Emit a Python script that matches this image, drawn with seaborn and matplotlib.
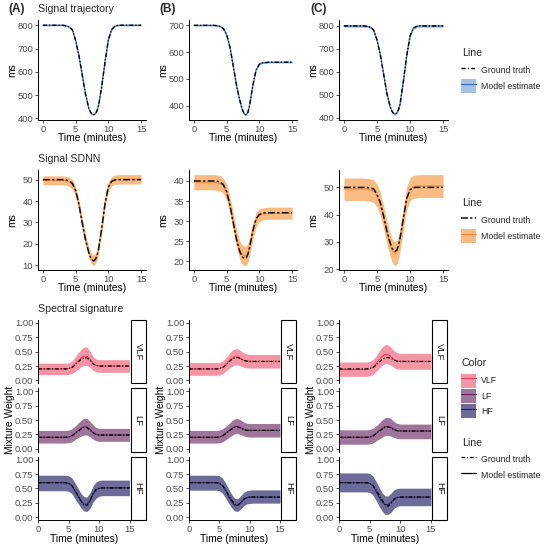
#Import Libraries
import matplotlib
matplotlib.use("Agg")
import matplotlib.pyplot as plt
from matplotlib.lines import Line2D
from matplotlib.patches import Patch, Rectangle
from matplotlib.ticker import MultipleLocator
import seaborn as sns

sns.set_style("ticks")
plt.rcParams["font.family"] = ["Liberation Sans", "DejaVu Sans"]

#Time grids (minutes)
t_sig = [0, 3, 3.5, 4, 4.5, 5, 5.5, 6, 6.5, 7, 7.25, 7.5, 7.75, 8, 8.25, 8.5,
         9, 9.5, 10, 10.5, 11, 11.5, 15]
t_mix = [0, 4.5, 5, 5.5, 6, 6.5, 7, 7.5, 8, 8.5, 9, 9.5, 10, 10.5, 15]

#Signal trajectory (ms) - estimate sits on top of the truth
traj_a = [800, 800, 798, 793, 780, 735, 670, 588, 505, 445, 428, 419, 416, 420,
          432, 455, 540, 645, 738, 782, 796, 800, 800]
traj_b = [700, 700, 699, 696, 688, 665, 619, 550, 477, 420, 397, 378, 367, 366,
          375, 400, 475, 533, 555, 560, 561, 562, 562]
traj_c = [800, 800, 798, 794, 782, 738, 675, 590, 505, 446, 428, 418, 415, 420,
          434, 460, 560, 670, 755, 790, 798, 800, 800]
traj_halfwidth = [3, 3, 6]

#Signal SDNN (ms)
sdnn_truth_a = [50, 50, 49.9, 49.5, 48.3, 45, 38.5, 30, 22, 16, 13.8, 12.5, 12,
                12.6, 14.2, 17.5, 27.5, 39, 46.5, 49.2, 49.9, 50, 50]
sdnn_est_a = [49.7, 49.7, 49.5, 49, 47.8, 44.5, 38.2, 29.8, 22, 16.2, 14, 12.8,
              12.4, 13, 14.6, 18, 28, 39.5, 46.8, 49.3, 50, 50.2, 50.2]
sdnn_lo_a = [47.6, 47.6, 47.4, 46.9, 45.6, 42.2, 35.8, 27.3, 19.5, 13.7, 11.5,
             10.3, 9.9, 10.5, 12.1, 15.5, 25.6, 37.2, 44.6, 47.1, 47.8, 48, 48]
sdnn_hi_a = [51.8, 51.8, 51.6, 51.1, 50, 46.8, 40.6, 32.3, 24.5, 18.7, 16.5,
             15.3, 14.9, 15.5, 17.1, 20.5, 30.4, 41.8, 49, 51.5, 52.2, 52.4, 52.4]

sdnn_truth_b = [40, 40, 39.95, 39.8, 39.1, 37.4, 34, 29.7, 25.5, 22.5, 21.6, 21,
                20.7, 20.9, 21.8, 23.4, 27.6, 30.6, 31.7, 32, 32.1, 32.1, 32.1]
sdnn_est_b = [39.7, 39.7, 39.6, 39.4, 38.8, 37.2, 34, 29.9, 25.8, 22.8, 22, 21.6,
              21.4, 21.5, 22.2, 23.6, 27.5, 30.4, 31.5, 31.8, 31.9, 32, 32]
sdnn_lo_b = [37.8, 37.8, 37.7, 37.5, 36.9, 35.2, 31.9, 27.7, 23.5, 20.5, 19.6,
             19.2, 19, 19.1, 19.8, 21.3, 25.4, 28.6, 29.9, 30.3, 30.4, 30.5, 30.5]
sdnn_hi_b = [41.6, 41.6, 41.5, 41.3, 40.7, 39.2, 36.1, 32.1, 28.1, 25.1, 24.4,
             24, 23.8, 23.9, 24.6, 25.9, 29.6, 32.2, 33.1, 33.3, 33.4, 33.5, 33.5]

sdnn_truth_c = [50, 50, 49.95, 49.8, 49.4, 47.5, 44.5, 39.5, 34, 29.6, 27.9,
                26.9, 26.6, 27, 28.6, 31.5, 38.8, 46, 49.1, 49.9, 50, 50, 50]
sdnn_est_c = [49.4, 49.4, 49.3, 49.1, 48.6, 47, 44, 39, 33.5, 29, 27.2, 26.2,
              25.9, 26.4, 28, 31, 38.6, 46, 49.3, 50.2, 50.4, 50.5, 50.5]
sdnn_lo_c = [45.2, 45.2, 45.1, 44.9, 44.4, 42.8, 39.8, 34.8, 29.3, 24.8, 22.9,
             21.8, 21.4, 22, 23.8, 26.8, 34.4, 41.8, 45.1, 46, 46.2, 46.3, 46.3]
sdnn_hi_c = [53.4, 53.4, 53.3, 53.1, 52.7, 51.2, 48.2, 43.2, 37.7, 33.2, 31.4,
             30.4, 30.1, 30.6, 32.2, 35.2, 42.8, 50.2, 53.5, 54.4, 54.6, 54.7, 54.7]

#Spectral signature (mixture weights)
vlf_truth_a = [0.20, 0.20, 0.205, 0.22, 0.26, 0.31, 0.36, 0.39, 0.39, 0.35, 0.29, 0.26, 0.25, 0.25, 0.25]
vlf_est_a = [0.20, 0.20, 0.205, 0.225, 0.27, 0.33, 0.38, 0.42, 0.42, 0.37, 0.30, 0.26, 0.25, 0.25, 0.25]
vlf_lo_a = [0.10, 0.10, 0.105, 0.12, 0.15, 0.19, 0.23, 0.26, 0.26, 0.23, 0.18, 0.15, 0.14, 0.14, 0.14]
vlf_hi_a = [0.30, 0.30, 0.305, 0.33, 0.39, 0.47, 0.53, 0.58, 0.58, 0.51, 0.42, 0.37, 0.36, 0.36, 0.36]
lf_truth_a = [0.20, 0.20, 0.205, 0.22, 0.26, 0.30, 0.34, 0.37, 0.37, 0.33, 0.28, 0.25, 0.24, 0.24, 0.24]
lf_est_a = [0.20, 0.20, 0.205, 0.225, 0.265, 0.31, 0.35, 0.38, 0.38, 0.34, 0.285, 0.25, 0.24, 0.24, 0.24]
lf_lo_a = [0.10, 0.10, 0.105, 0.12, 0.155, 0.19, 0.22, 0.24, 0.24, 0.21, 0.17, 0.14, 0.13, 0.13, 0.13]
lf_hi_a = [0.32, 0.32, 0.325, 0.345, 0.385, 0.44, 0.49, 0.53, 0.53, 0.48, 0.42, 0.37, 0.355, 0.355, 0.355]
hf_truth_a = [0.60, 0.60, 0.59, 0.56, 0.48, 0.39, 0.29, 0.21, 0.20, 0.28, 0.41, 0.48, 0.505, 0.51, 0.51]
hf_est_a = [0.60, 0.60, 0.59, 0.555, 0.47, 0.38, 0.29, 0.23, 0.22, 0.28, 0.40, 0.47, 0.50, 0.51, 0.51]
hf_lo_a = [0.46, 0.46, 0.45, 0.415, 0.335, 0.25, 0.17, 0.11, 0.10, 0.15, 0.26, 0.33, 0.365, 0.375, 0.375]
hf_hi_a = [0.73, 0.73, 0.72, 0.69, 0.61, 0.52, 0.42, 0.36, 0.35, 0.42, 0.54, 0.61, 0.64, 0.645, 0.645]

vlf_truth_b = [0.20, 0.20, 0.205, 0.22, 0.26, 0.31, 0.36, 0.39, 0.40, 0.38, 0.35, 0.335, 0.33, 0.33, 0.33]
vlf_est_b = [0.20, 0.20, 0.205, 0.225, 0.27, 0.33, 0.38, 0.41, 0.41, 0.38, 0.35, 0.335, 0.33, 0.33, 0.33]
vlf_lo_b = [0.09, 0.09, 0.095, 0.115, 0.155, 0.20, 0.24, 0.27, 0.27, 0.25, 0.23, 0.22, 0.215, 0.215, 0.215]
vlf_hi_b = [0.31, 0.31, 0.315, 0.335, 0.385, 0.45, 0.51, 0.55, 0.55, 0.52, 0.48, 0.46, 0.45, 0.45, 0.45]
lf_truth_b = [0.20, 0.20, 0.205, 0.22, 0.26, 0.30, 0.34, 0.37, 0.38, 0.36, 0.335, 0.32, 0.32, 0.32, 0.32]
lf_est_b = [0.20, 0.20, 0.205, 0.225, 0.265, 0.31, 0.35, 0.385, 0.39, 0.37, 0.34, 0.325, 0.32, 0.32, 0.32]
lf_lo_b = [0.10, 0.10, 0.105, 0.12, 0.155, 0.19, 0.23, 0.26, 0.265, 0.25, 0.225, 0.21, 0.205, 0.205, 0.205]
lf_hi_b = [0.32, 0.32, 0.325, 0.345, 0.385, 0.43, 0.48, 0.52, 0.53, 0.50, 0.465, 0.445, 0.44, 0.44, 0.44]
hf_truth_b = [0.60, 0.60, 0.59, 0.56, 0.48, 0.39, 0.30, 0.23, 0.21, 0.25, 0.31, 0.34, 0.35, 0.35, 0.35]
hf_est_b = [0.60, 0.60, 0.59, 0.55, 0.47, 0.37, 0.28, 0.21, 0.20, 0.25, 0.31, 0.34, 0.35, 0.35, 0.35]
hf_lo_b = [0.47, 0.47, 0.46, 0.42, 0.34, 0.25, 0.17, 0.11, 0.10, 0.14, 0.20, 0.23, 0.24, 0.245, 0.245]
hf_hi_b = [0.73, 0.73, 0.72, 0.68, 0.60, 0.50, 0.40, 0.33, 0.32, 0.37, 0.43, 0.46, 0.47, 0.475, 0.475]

vlf_truth_c = [0.20, 0.20, 0.205, 0.22, 0.26, 0.31, 0.36, 0.39, 0.40, 0.38, 0.35, 0.335, 0.33, 0.33, 0.33]
vlf_est_c = [0.19, 0.19, 0.20, 0.225, 0.28, 0.35, 0.41, 0.45, 0.45, 0.41, 0.36, 0.335, 0.33, 0.33, 0.33]
vlf_lo_c = [0.07, 0.07, 0.08, 0.10, 0.15, 0.21, 0.26, 0.29, 0.29, 0.26, 0.22, 0.20, 0.195, 0.195, 0.195]
vlf_hi_c = [0.32, 0.32, 0.33, 0.36, 0.42, 0.50, 0.58, 0.62, 0.62, 0.57, 0.51, 0.48, 0.47, 0.47, 0.47]
lf_truth_c = [0.20, 0.20, 0.205, 0.22, 0.26, 0.30, 0.34, 0.37, 0.38, 0.36, 0.33, 0.315, 0.31, 0.31, 0.31]
lf_est_c = [0.20, 0.20, 0.205, 0.225, 0.265, 0.31, 0.35, 0.385, 0.39, 0.37, 0.335, 0.315, 0.31, 0.31, 0.31]
lf_lo_c = [0.08, 0.08, 0.085, 0.10, 0.135, 0.17, 0.20, 0.23, 0.235, 0.22, 0.195, 0.18, 0.175, 0.175, 0.175]
lf_hi_c = [0.33, 0.33, 0.335, 0.355, 0.395, 0.44, 0.50, 0.54, 0.55, 0.52, 0.47, 0.44, 0.43, 0.43, 0.43]
hf_truth_c = [0.60, 0.60, 0.59, 0.56, 0.48, 0.39, 0.30, 0.22, 0.19, 0.24, 0.31, 0.34, 0.35, 0.35, 0.35]
hf_est_c = [0.60, 0.60, 0.59, 0.55, 0.46, 0.36, 0.27, 0.22, 0.22, 0.26, 0.32, 0.345, 0.35, 0.35, 0.35]
hf_lo_c = [0.44, 0.44, 0.43, 0.39, 0.30, 0.20, 0.11, 0.05, 0.05, 0.09, 0.16, 0.19, 0.20, 0.20, 0.20]
hf_hi_c = [0.77, 0.77, 0.76, 0.72, 0.63, 0.53, 0.43, 0.37, 0.37, 0.42, 0.48, 0.50, 0.505, 0.505, 0.505]

components = ["VLF", "LF", "HF"]
panel_tags = ["(A)", "(B)", "(C)"]
x_ticks = [0, 5, 10, 15]
mix_ticks = [0, 0.25, 0.5, 0.75, 1.0]
mix_tick_labels = ["0.00", "0.25", "0.50", "0.75", "1.00"]
sdnn_steps = [10, 5, 10]

#Colours
blue_line, blue_fill = "#3C6FC2", "#6F98D8"
orange_line, orange_fill = "#EE8A36", "#F5993F"
comp_line = {"VLF": "#E23C5B", "LF": "#5E2459", "HF": "#28265F"}
comp_fill = {"VLF": "#EC4F68", "LF": "#6E2C68", "HF": "#2F2C6E"}
comp_alpha = {"VLF": 0.6, "LF": 0.65, "HF": 0.7}

DASHDOT = (0, (3, 1.5, 0.8, 1.5))
TWODASH = (0, (4.5, 1.5, 1.5, 1.5))

#Layout in pixels
W = H = 550
fig = plt.figure(figsize=(5.5, 5.5), dpi=100)
cols12 = [(38, 146), (189, 297), (339, 448)]
cols3 = [(38, 129.5), (189, 280), (339, 431)]
row1_y = (20, 120)
row2_y = (170, 270)
facet_y = [(320, 383.3), (388.4, 451.7), (456.8, 520.1)]

TICK_SIZE = 6.8
LAB_SIZE = 7.4
LEG_SIZE = 6.3


def box(x0, y0, x1, y1):
    return [x0 / W, 1 - y1 / H, (x1 - x0) / W, (y1 - y0) / H]


def style_ax(ax, x0, x1, y0, y1, xlabel_y=None, ylabel_x=None, ylabel="ms"):
    sns.despine(ax=ax)
    for s in ["left", "bottom"]:
        ax.spines[s].set_linewidth(0.7)
        ax.spines[s].set_color("black")
    ax.tick_params(length=2.2, width=0.6, color="#333333", labelsize=TICK_SIZE,
                   labelcolor="#4D4D4D", pad=1.2)
    ax.set_xticks(x_ticks)
    if xlabel_y is not None:
        ax.set_xlabel("Time (minutes)", fontsize=LAB_SIZE, color="black", va="center")
        ax.xaxis.set_label_coords(0.5, (y1 - xlabel_y) / (y1 - y0))
    else:
        ax.set_xlabel("")
    if ylabel_x is not None:
        ax.set_ylabel(ylabel, fontsize=LAB_SIZE, color="black", va="center")
        ax.yaxis.set_label_coords((ylabel_x - x0) / (x1 - x0), 0.5)
    else:
        ax.set_ylabel("")


def pad_lim(lo, hi, frac=0.05):
    span = hi - lo
    return lo - frac * span, hi + frac * span


#Row 1: signal trajectory
for traj, hw, (x0, x1) in zip([traj_a, traj_b, traj_c], traj_halfwidth, cols12):
    ax = fig.add_axes(box(x0, row1_y[0], x1, row1_y[1]))
    lo = [v - hw for v in traj]
    hi = [v + hw for v in traj]
    ax.fill_between(t_sig, lo, hi, color=blue_fill, alpha=0.6, linewidth=0)
    sns.lineplot(x=t_sig, y=traj, ax=ax, color=blue_line, linewidth=0.9,
                 errorbar=None, legend=False)
    sns.lineplot(x=t_sig, y=traj, ax=ax, color="black", linewidth=1.0,
                 linestyle=DASHDOT, errorbar=None, legend=False)
    ax.set_xlim(-0.75, 15.75)
    ax.set_ylim(*pad_lim(min(lo), max(hi)))
    ax.yaxis.set_major_locator(MultipleLocator(100))
    style_ax(ax, x0, x1, *row1_y, xlabel_y=138, ylabel_x=x0 - 26)

#Row 2: SDNN
sdnn = [(sdnn_truth_a, sdnn_est_a, sdnn_lo_a, sdnn_hi_a),
        (sdnn_truth_b, sdnn_est_b, sdnn_lo_b, sdnn_hi_b),
        (sdnn_truth_c, sdnn_est_c, sdnn_lo_c, sdnn_hi_c)]
for (truth, est, lo, hi), step, (x0, x1) in zip(sdnn, sdnn_steps, cols12):
    ax = fig.add_axes(box(x0, row2_y[0], x1, row2_y[1]))
    ax.fill_between(t_sig, lo, hi, color=orange_fill, alpha=0.65, linewidth=0)
    sns.lineplot(x=t_sig, y=est, ax=ax, color=orange_line, linewidth=0.8,
                 errorbar=None, legend=False)
    sns.lineplot(x=t_sig, y=truth, ax=ax, color="#111111", linewidth=1.1,
                 linestyle=TWODASH, errorbar=None, legend=False)
    ax.set_xlim(-0.75, 15.75)
    ax.set_ylim(*pad_lim(min(lo), max(hi)))
    ax.yaxis.set_major_locator(MultipleLocator(step))
    style_ax(ax, x0, x1, *row2_y, xlabel_y=288, ylabel_x=x0 - 26)

#Row 3: spectral signature facets
mix = {
    0: {"VLF": (vlf_truth_a, vlf_est_a, vlf_lo_a, vlf_hi_a),
        "LF": (lf_truth_a, lf_est_a, lf_lo_a, lf_hi_a),
        "HF": (hf_truth_a, hf_est_a, hf_lo_a, hf_hi_a)},
    1: {"VLF": (vlf_truth_b, vlf_est_b, vlf_lo_b, vlf_hi_b),
        "LF": (lf_truth_b, lf_est_b, lf_lo_b, lf_hi_b),
        "HF": (hf_truth_b, hf_est_b, hf_lo_b, hf_hi_b)},
    2: {"VLF": (vlf_truth_c, vlf_est_c, vlf_lo_c, vlf_hi_c),
        "LF": (lf_truth_c, lf_est_c, lf_lo_c, lf_hi_c),
        "HF": (hf_truth_c, hf_est_c, hf_lo_c, hf_hi_c)},
}
for ci, (x0, x1) in enumerate(cols3):
    for ri, comp in enumerate(components):
        y0, y1 = facet_y[ri]
        ax = fig.add_axes(box(x0, y0, x1, y1))
        truth, est, lo, hi = mix[ci][comp]
        ax.fill_between(t_mix, lo, hi, color=comp_fill[comp], alpha=comp_alpha[comp], linewidth=0)
        sns.lineplot(x=t_mix, y=est, ax=ax, color=comp_line[comp], linewidth=0.8,
                     errorbar=None, legend=False)
        sns.lineplot(x=t_mix, y=truth, ax=ax, color="black", linewidth=0.9,
                     linestyle=DASHDOT, errorbar=None, legend=False)
        ax.set_xlim(0, 15)
        ax.set_ylim(-0.05, 1.05)
        ax.set_yticks(mix_ticks)
        ax.set_yticklabels(mix_tick_labels)
        last = ri == len(components) - 1
        style_ax(ax, x0, x1, y0, y1, xlabel_y=539 if last else None)
        if not last:
            ax.spines["bottom"].set_visible(False)
            ax.tick_params(axis="x", bottom=False, labelbottom=False)
        # strip on the right
        sx0, sx1 = x1 + 1, x1 + 16
        fig.add_artist(Rectangle((sx0 / W, 1 - y1 / H), (sx1 - sx0) / W, (y1 - y0) / H,
                                 transform=fig.transFigure, facecolor="white",
                                 edgecolor="black", linewidth=0.8))
        fig.text((sx0 + sx1) / 2 / W, 1 - (y0 + y1) / 2 / H, comp, rotation=-90,
                 ha="center", va="center", fontsize=TICK_SIZE, color="#1A1A1A")
    fig.text((x0 - 28) / W, 1 - 420 / H, "Mixture Weight", rotation=90,
             ha="center", va="center", fontsize=LAB_SIZE, color="black")

#Titles and panel tags
fig.text(38 / W, 1 - 9 / H, "Signal trajectory", fontsize=7.6, va="center", ha="left")
fig.text(38 / W, 1 - 159 / H, "Signal SDNN", fontsize=7.6, va="center", ha="left")
fig.text(38 / W, 1 - 309 / H, "Spectral signature", fontsize=7.6, va="center", ha="left")
for tag, x in zip(panel_tags, [8, 159, 310]):
    fig.text(x / W, 1 - 9 / H, tag, fontsize=8.5, fontweight="bold", va="center", ha="left")


#Legends: title drawn as text, entries as a figure legend below it
def add_legend(handles, labels, title, title_y, first_y):
    fig.text(462 / W, 1 - title_y / H, title, fontsize=7.6, va="center", ha="left")
    leg = fig.legend(handles, labels, loc="upper left",
                     bbox_to_anchor=(461 / W, 1 - (first_y - 6.5) / H), frameon=False,
                     fontsize=LEG_SIZE, handlelength=1.75, handleheight=2.15,
                     handletextpad=0.55, labelspacing=0.1,
                     borderpad=0, borderaxespad=0)
    return leg


add_legend([Line2D([], [], color="black", lw=1.0, linestyle=DASHDOT),
            (Patch(facecolor=blue_fill, alpha=0.6, lw=0), Line2D([], [], color=blue_line, lw=0.9))],
           ["Ground truth", "Model estimate"], "Line", 53, 70)
add_legend([Line2D([], [], color="#111111", lw=1.1, linestyle=TWODASH),
            (Patch(facecolor=orange_fill, alpha=0.65, lw=0), Line2D([], [], color=orange_line, lw=0.8))],
           ["Ground truth", "Model estimate"], "Line", 203, 220)
add_legend([(Patch(facecolor=comp_fill[c], alpha=comp_alpha[c], lw=0),
             Line2D([], [], color=comp_line[c], lw=0.8)) for c in components],
           components, "Color", 363, 380)
add_legend([Line2D([], [], color="black", lw=0.9, linestyle=DASHDOT),
            Line2D([], [], color="black", lw=0.9)],
           ["Ground truth", "Model estimate"], "Line", 443, 459)

fig.savefig("out.png", dpi=100, facecolor="white")
print("Saved out.png")
